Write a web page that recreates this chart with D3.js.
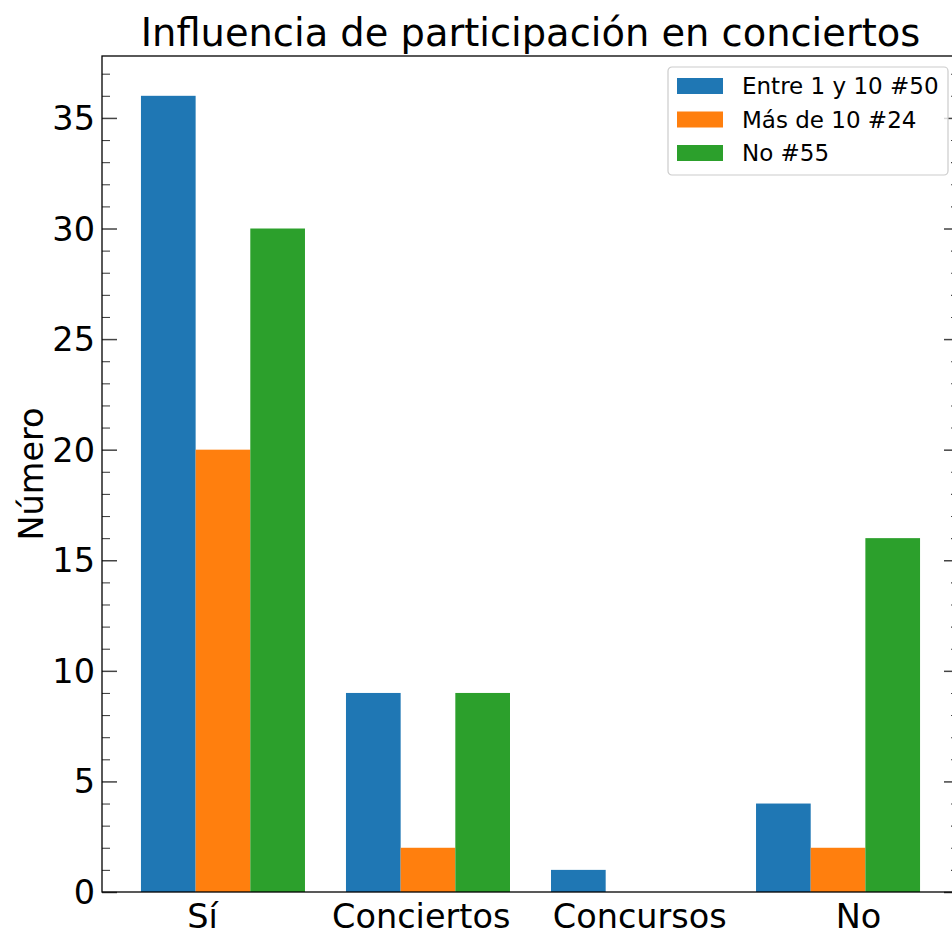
<!DOCTYPE html>
<html>
<head>
<meta charset="utf-8">
<script src="https://cdn.jsdelivr.net/npm/d3@7"></script>
<style>
  body { margin: 0; background: #fff; overflow: hidden; }
  svg { display: block; font-family: "DejaVu Sans", sans-serif; }
</style>
</head>
<body>
<script>
// datos
var categorias = ["Sí", "Conciertos", "Concursos", "No"];
var series = ["Entre 1 y 10 #50", "Más de 10 #24", "No #55"];
var entre1y10 = [36, 9, 1, 4];
var masDe10 = [20, 2, 0, 2];
var noParticipa = [30, 9, 0, 16];
var yTicks = [0, 5, 10, 15, 20, 25, 30, 35];
var xTickPos = [-0.1, 0.967, 2.033, 3.1]; // posiciones de las etiquetas (no centradas en los grupos)
var colores = ["#1f77b4", "#ff7f0e", "#2ca02c"];

var valores = [entre1y10, masDe10, noParticipa];

var width = 952, height = 934;
var mLeft = 102, mRight = 959, mTop = 56, mBottom = 892;
var barW = 0.8 / series.length;

var xScale = d3.scaleLinear().domain([-0.59, categorias.length - 1 + 0.59]).range([mLeft, mRight]);
var yScale = d3.scaleLinear().domain([0, 37.8]).range([mBottom, mTop]);

var svg = d3.select("body").append("svg").attr("width", width).attr("height", height);

// barras
valores.forEach(function (serie, j) {
  svg.append("g").selectAll("rect").data(serie).enter().append("rect")
    .attr("x", function (d, i) { return xScale(i + (j - 1) * barW - barW / 2); })
    .attr("width", xScale(barW) - xScale(0))
    .attr("y", function (d) { return yScale(d); })
    .attr("height", function (d) { return yScale(0) - yScale(d); })
    .attr("fill", colores[j]);
});

// ticks eje y (hacia dentro), izquierda y derecha
var yMinor = d3.range(0, 38).filter(function (v) { return v % 5 !== 0; });
function ticksY(xpos, axisFn, vals, len, sw) {
  var g = svg.append("g").attr("transform", "translate(" + xpos + ",0)")
    .call(axisFn(yScale).tickValues(vals).tickSize(len).tickFormat(""));
  g.select(".domain").remove();
  g.selectAll("line").attr("stroke", "#444").attr("stroke-width", sw);
}
ticksY(mLeft, d3.axisRight, yTicks, 15, 1.5);
ticksY(mLeft, d3.axisRight, yMinor, 8, 1.1);
ticksY(mRight, d3.axisLeft, yTicks, 15, 1.5);
ticksY(mRight, d3.axisLeft, yMinor, 8, 1.1);

// etiquetas y
svg.append("g").selectAll("text").data(yTicks).enter().append("text")
  .attr("x", mLeft - 7)
  .attr("y", function (d) { return yScale(d); })
  .attr("dy", "0.36em")
  .attr("text-anchor", "end")
  .attr("font-size", 33.5)
  .text(function (d) { return d; });

// etiquetas x
svg.append("g").selectAll("text").data(categorias).enter().append("text")
  .attr("x", function (d, i) { return xScale(xTickPos[i]); })
  .attr("y", mBottom + 36)
  .attr("text-anchor", "middle")
  .attr("font-size", 33.5)
  .text(function (d) { return d; });

// marco
svg.append("rect")
  .attr("x", mLeft).attr("y", mTop)
  .attr("width", mRight - mLeft).attr("height", mBottom - mTop)
  .attr("fill", "none").attr("stroke", "#000").attr("stroke-width", 1.3);

// titulo
svg.append("text")
  .attr("x", (mLeft + mRight) / 2).attr("y", 46)
  .attr("text-anchor", "middle")
  .attr("font-size", 38.4)
  .text("Influencia de participación en conciertos");

// titulo eje y
svg.append("text")
  .attr("transform", "translate(43," + (mTop + mBottom) / 2 + ") rotate(-90)")
  .attr("text-anchor", "middle")
  .attr("font-size", 33.5)
  .text("Número");

// leyenda
var leg = svg.append("g").attr("transform", "translate(668,67)");
leg.append("rect")
  .attr("width", 280).attr("height", 108)
  .attr("rx", 4)
  .attr("fill", "#fff").attr("fill-opacity", 0.8)
  .attr("stroke", "#ccc").attr("stroke-width", 1.2);
series.forEach(function (s, j) {
  leg.append("rect")
    .attr("x", 9).attr("y", 11 + j * 33.5)
    .attr("width", 46).attr("height", 16)
    .attr("fill", colores[j]);
  leg.append("text")
    .attr("x", 74).attr("y", 27 + j * 33.5)
    .attr("font-size", 23)
    .text(s);
});
</script>
</body>
</html>
